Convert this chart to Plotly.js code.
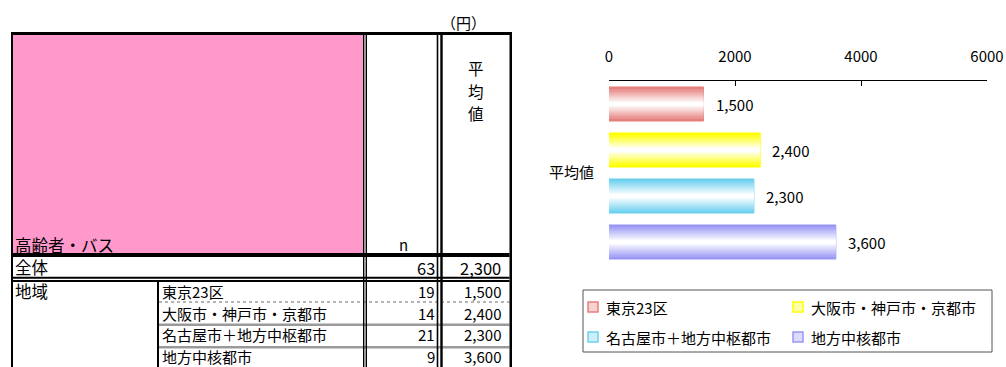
<!DOCTYPE html>
<html><head><meta charset="utf-8">
<script src="https://cdn.plot.ly/plotly-3.0.1.min.js"></script>
<style>html,body{margin:0;padding:0;background:#fff;}#chart{width:1006px;height:367px;}</style>
</head><body><div id="chart"></div>
<script>
// ---- data ----
const category = ['平均値'];
const tableTitle = '高齢者・バス';
const unitLabel = '（円）';
const nHeader = 'n';
const avgHeader = '平均値';
const groupLabel = '地域';
const regions = ['東京23区', '大阪市・神戸市・京都市', '名古屋市＋地方中枢都市', '地方中核都市'];
const nValues = [19, 14, 21, 9];
const avgValues = [1500, 2400, 2300, 3600];
const totalLabel = '全体';
const totalN = 63;
const totalAvg = 2300;
const xTicks = [0, 2000, 4000, 6000];
const colors = ['#E5807C', '#FFFF00', '#6DD0F0', '#9A97F5'];

// ---- helpers ----
const W = 1006, H = 367;
const px = x => x / W, py = y => 1 - y / H;
const FONT = '"Noto Sans CJK JP", "Noto Sans", sans-serif';
const fmt = v => v.toLocaleString('en-US');
function mix(hex, t) {
  const r = parseInt(hex.slice(1, 3), 16), g = parseInt(hex.slice(3, 5), 16), b = parseInt(hex.slice(5, 7), 16);
  const m = c => Math.round(c + (255 - c) * t);
  return 'rgb(' + m(r) + ',' + m(g) + ',' + m(b) + ')';
}

// ---- bars (layered for a gradient look) ----
const centers = [0.375, 0.125, -0.125, -0.375];
const BW = 0.185;
const K = 8;
const traces = [];
regions.forEach((name, i) => {
  for (let k = 0; k < K; k++) {
    const w = BW * (1 - k / K);
    traces.push({
      type: 'bar', orientation: 'h', y: category, x: [avgValues[i]],
      name: name, showlegend: false,
      width: [w], offset: [centers[i] - w / 2],
      marker: { color: mix(colors[i], k / (K - 1)), line: { width: k === 0 ? 1 : 0, color: colors[i] } },
      hoverinfo: 'skip'
    });
  }
});

// ---- table shapes ----
const shapes = [];
function rect(x0, y0, x1, y1, color) {
  shapes.push({ type: 'rect', xref: 'paper', yref: 'paper', x0: px(x0), x1: px(x1), y0: py(y1), y1: py(y0),
    fillcolor: color, line: { width: 0 }, layer: 'above' });
}
function hline(x0, x1, y, color, width, dash) {
  shapes.push({ type: 'line', xref: 'paper', yref: 'paper', x0: px(x0), x1: px(x1), y0: py(y), y1: py(y),
    line: { color: color, width: width, dash: dash || 'solid' }, layer: 'above' });
}
rect(13, 35, 363, 253, '#FF99CC');
// row separators
hline(159, 509.5, 302, '#6a6a6a', 1, 'dot');
rect(159, 323.5, 509.5, 326, '#9a9a9a');
rect(159, 346, 509.5, 348.5, '#9a9a9a');
// horizontal heavy lines
rect(11, 32, 512, 35, '#000');
rect(13, 253, 509.5, 257, '#000');
rect(13, 276.7, 509.5, 278.7, '#000');
rect(13, 280, 509.5, 282, '#000');
// verticals
rect(11, 32, 13, 367, '#000');
rect(509.5, 32, 512, 367, '#000');
rect(157, 282, 159, 367, '#000');
rect(363, 35, 364.4, 367, '#000');
rect(365.6, 35, 367, 367, '#000');
rect(436.7, 35, 438.3, 367, '#000');
rect(440.3, 35, 442.7, 367, '#000');

// ---- annotations ----
const annotations = [];
function ann(text, x, y, anchor, size) {
  annotations.push({ xref: 'paper', yref: 'paper', x: px(x), y: py(y), text: text, showarrow: false,
    xanchor: anchor, yanchor: 'middle', font: { size: size, color: '#000', family: FONT }, borderpad: 0 });
}
const TS = 16.5, RS = 15;
ann(unitLabel, 463, 22, 'center', 15);
const vY = [68, 90.5, 113];
avgHeader.split('').forEach((ch, j) => ann(ch, 476, vY[j], 'center', 15.5));
ann(tableTitle, 14, 245, 'left', TS);
ann(nHeader, 403, 244, 'center', 15);
ann(totalLabel, 14, 267, 'left', TS);
ann(fmt(totalN), 436, 268, 'right', TS);
ann(fmt(totalAvg), 502, 268, 'right', TS);
ann(groupLabel, 14, 291, 'left', TS);
const rowY = [291.5, 313.5, 334.8, 356.3];
regions.forEach((r, i) => {
  ann(r, 161, rowY[i], 'left', RS);
  ann(fmt(nValues[i]), 436, rowY[i], 'right', RS);
  ann(fmt(avgValues[i]), 502, rowY[i], 'right', RS);
});
// data labels on bars
avgValues.forEach((v, i) => {
  annotations.push({ xref: 'x', yref: 'y', x: v, y: centers[i], text: fmt(v), showarrow: false,
    xanchor: 'left', yanchor: 'middle', xshift: 10, font: { size: 15, color: '#000', family: FONT } });
});

// ---- legend (drawn box, swatches and names) ----
shapes.push({ type: 'rect', xref: 'paper', yref: 'paper', x0: px(583), x1: px(992), y0: py(352), y1: py(290),
  fillcolor: 'rgba(0,0,0,0)', line: { color: '#555', width: 1 } });
const legPos = [[588, 307], [793, 307], [588, 337], [793, 337]];
regions.forEach((r, i) => {
  const [lx, ly] = legPos[i];
  shapes.push({ type: 'rect', xref: 'paper', yref: 'paper', x0: px(lx), x1: px(lx + 10), y0: py(ly + 5), y1: py(ly - 5),
    fillcolor: mix(colors[i], 0.65), line: { color: colors[i], width: 1.5 } });
  ann(r, lx + 17, ly, 'left', 15);
});

const layout = {
  width: W, height: H, margin: { l: 0, r: 0, t: 0, b: 0 },
  paper_bgcolor: '#fff', plot_bgcolor: 'rgba(0,0,0,0)',
  font: { family: FONT, color: '#000' },
  barmode: 'overlay', showlegend: false,
  xaxis: {
    domain: [px(609), px(987)], range: [0, 6000], autorange: false, side: 'top',
    tickvals: xTicks, ticktext: xTicks.map(String), ticks: 'inside', ticklen: 5, tickcolor: '#000', tickwidth: 1,
    showline: true, linecolor: '#000', linewidth: 1, showgrid: false, zeroline: false,
    tickfont: { size: 15, color: '#000' }, ticklabelstandoff: 12, fixedrange: true
  },
  yaxis: {
    domain: [py(265), py(81)], type: 'category', range: [-0.5, 0.5], autorange: false,
    showline: false, ticks: '', showgrid: false, zeroline: false,
    tickfont: { size: 15, color: '#000' }, ticklabelstandoff: 14, fixedrange: true
  },
  shapes: shapes, annotations: annotations
};
Plotly.newPlot('chart', traces, layout, { displayModeBar: false, staticPlot: true });
</script></body></html>
